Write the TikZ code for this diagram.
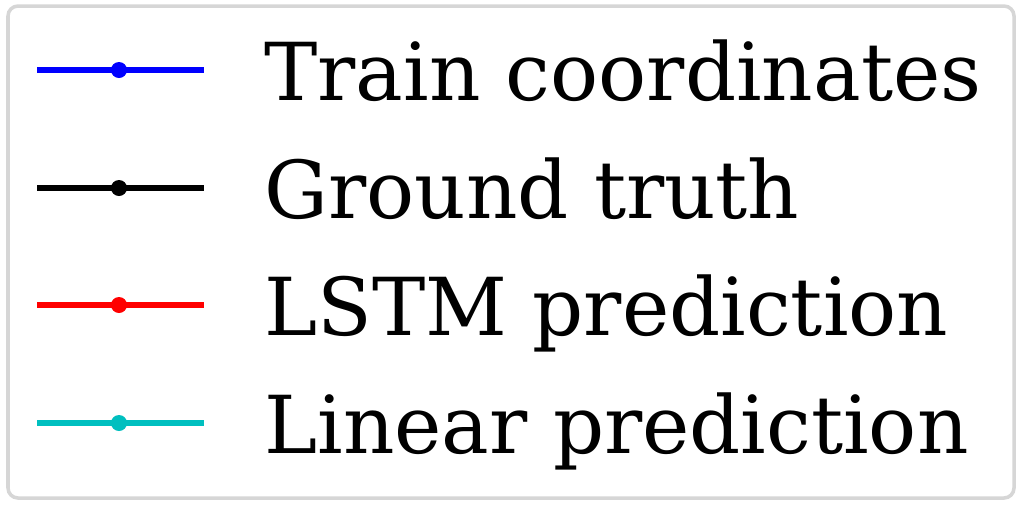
\documentclass[tikz,border=0pt]{standalone}
\usepackage{fontspec}
\setmainfont{DejaVu Serif}
\usepackage{xcolor}
\definecolor{legframe}{RGB}{214,214,214}
\definecolor{lincyan}{RGB}{0,191,191}
\tikzset{
  legline/.style={line width=3.6pt},
  legdot/.style={circle,inner sep=0pt,minimum size=0.32cm},
  legtext/.style={anchor=base west,inner sep=0pt,font=\fontsize{45.5pt}{55pt}\selectfont}
}

\begin{document}
\begin{tikzpicture}[x=0.02cm,y=-0.02cm]

% Cornice
\useasboundingbox (0,0) rectangle (1024,505);
\draw[legframe,line width=2pt,fill=white,rounded corners=0.2cm] (8,6) rectangle (1014,498);

% Voci della legenda
\foreach \name/\col/\yy/\txt in {train/blue/70/Train coordinates,
                                  truth/black/188/Ground truth,
                                  lstm/red/305/LSTM prediction,
                                  linear/lincyan/423/Linear prediction}{
  \coordinate (\name-a) at (37,\yy);
  \coordinate (\name-b) at (204,\yy);
  \draw[legline,\col] (\name-a) -- (\name-b);
  \node[legdot,fill=\col] (\name-dot) at (119,\yy) {};
  \node[legtext] (\name-lbl) at (264,\yy+30) {\txt};
}
\end{tikzpicture}
\end{document}
